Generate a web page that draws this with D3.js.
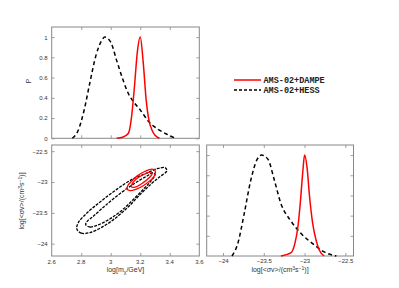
<!DOCTYPE html>
<html>
<head>
<meta charset="utf-8">
<script src="https://cdn.jsdelivr.net/npm/d3@7"></script>
<style>
  body { margin: 0; background: #fff; }
  text { font-family: "Liberation Sans", Arial, sans-serif; fill: #333; }
  text.mono { font-family: "Liberation Mono", "Courier New", monospace; fill: #222; }
</style>
</head>
<body>
<svg id="chart" width="399" height="288"></svg>
<script>
// Triangle plot: 1D posteriors + 2D contours
/////////////////////////////////

// series names
var seriesNames = ['AMS-02+DAMPE', 'AMS-02+HESS'];

// 1D posterior of log(m) - DAMPE (red)
var massRedX = [3.04, 3.08, 3.12, 3.14, 3.16, 3.18, 3.20, 3.22, 3.24, 3.26, 3.28, 3.30, 3.33];
var massRedP = [0, 0.01, 0.05, 0.2, 0.5, 0.85, 1.0, 0.75, 0.38, 0.17, 0.08, 0.03, 0];

// 1D posterior of log(m) - HESS (black dashed)
var massBlackX = [2.74, 2.78, 2.82, 2.86, 2.90, 2.94, 2.96, 3.00, 3.04, 3.08, 3.12, 3.16, 3.20, 3.26, 3.32, 3.38, 3.44];
var massBlackP = [0, 0.08, 0.28, 0.56, 0.82, 0.97, 1.0, 0.95, 0.77, 0.59, 0.44, 0.35, 0.28, 0.16, 0.09, 0.04, 0];

// 1D posterior of log(sv) - DAMPE
var svRedX = [-23.29, -23.17, -23.12, -23.08, -23.05, -23.02, -23.0, -22.97, -22.94, -22.90, -22.86, -22.82, -22.76];
var svRedP = [0, 0.03, 0.12, 0.3, 0.55, 0.85, 1.0, 0.88, 0.6, 0.32, 0.16, 0.06, 0];

// 1D posterior of log(sv) - HESS
var svBlackX = [-23.89, -23.82, -23.74, -23.66, -23.58, -23.53, -23.45, -23.37, -23.29, -23.17, -23.04, -22.88, -22.76, -22.61];
var svBlackP = [0, 0.12, 0.42, 0.75, 0.96, 1.0, 0.96, 0.75, 0.52, 0.35, 0.22, 0.11, 0.04, 0];

// 2D contours [log m, log sv]
var contBlackOuter = [[2.77, -23.76], [2.80, -23.83], [2.86, -23.82], [2.95, -23.72], [3.04, -23.57], [3.12, -23.40],
    [3.20, -23.20], [3.27, -23.04], [3.33, -22.92], [3.38, -22.82], [3.37, -22.77], [3.32, -22.78], [3.24, -22.86],
    [3.15, -22.95], [3.04, -23.12], [2.93, -23.32], [2.84, -23.50], [2.78, -23.66]];
var contBlackInner = [[2.83, -23.69], [2.86, -23.73], [2.92, -23.69], [3.00, -23.59], [3.08, -23.45], [3.15, -23.29],
    [3.22, -23.12], [3.27, -22.99], [3.30, -22.88], [3.29, -22.85], [3.24, -22.91], [3.15, -23.04], [3.04, -23.23],
    [2.95, -23.41], [2.88, -23.56], [2.84, -23.64]];
var contRedOuter = [[3.11, -23.11], [3.13, -23.14], [3.17, -23.12], [3.22, -23.06], [3.27, -22.97], [3.30, -22.88],
    [3.30, -22.81], [3.28, -22.79], [3.23, -22.83], [3.18, -22.90], [3.14, -22.99], [3.115, -23.06]];
var contRedInner = [[3.14, -23.08], [3.17, -23.08], [3.22, -23.01], [3.26, -22.93], [3.28, -22.87], [3.27, -22.84],
    [3.23, -22.87], [3.18, -22.94], [3.15, -23.01]];

// ticks
var massTicks = [2.6, 2.8, 3.0, 3.2, 3.4, 3.6];
var svTicks = [-24, -23.5, -23, -22.5];
var pTicks = [0, 0.2, 0.4, 0.6, 0.8, 1];

var svg = d3.select('#chart');
var red = '#ff0000', black = '#000';

// scales
var xM = d3.scaleLinear().domain([2.6, 3.6]).range([51.7, 199.3]);
var yTop = d3.scaleLinear().domain([0, 1.1]).range([138.3, 27]);
var ySv = d3.scaleLinear().domain([-24.2, -22.4]).range([256, 145]);
var xSv = d3.scaleLinear().domain([-24.2, -22.4]).range([206.7, 353.5]);
var yBR = d3.scaleLinear().domain([0, 1.1]).range([256, 145]);

var fmt = function (d) { return String(d).replace('-', '\u2212'); };

function frame(x, y, xt, yt, xLab, yLab) {
    var g = svg.append('g');
    var x0 = x.range()[0], x1 = x.range()[1], y0 = y.range()[0], y1 = y.range()[1];
    // inward ticks on all sides
    g.append('g').attr('transform', 'translate(0,' + y0 + ')')
        .call(d3.axisBottom(x).tickValues(xt).tickSize(-3).tickPadding(3).tickFormat(xLab ? fmt : ''));
    g.append('g').attr('transform', 'translate(0,' + y1 + ')')
        .call(d3.axisTop(x).tickValues(xt).tickSize(-3).tickFormat(''));
    g.append('g').attr('transform', 'translate(' + x0 + ',0)')
        .call(d3.axisLeft(y).tickValues(yt).tickSize(-3).tickPadding(4).tickFormat(yLab ? fmt : ''));
    g.append('g').attr('transform', 'translate(' + x1 + ',0)')
        .call(d3.axisRight(y).tickValues(yt).tickSize(-3).tickFormat(''));
    g.selectAll('.domain').remove();
    g.selectAll('.tick line').attr('stroke', '#888').attr('stroke-width', 0.8);
    g.selectAll('.tick text').attr('font-size', '6px');
    g.append('rect').attr('x', x0).attr('y', y1).attr('width', x1 - x0).attr('height', y0 - y1)
        .attr('fill', 'none').attr('stroke', '#888').attr('stroke-width', 1);
}

frame(xM, yTop, [2.8, 3.0, 3.2, 3.4], pTicks, false, true);
frame(xM, ySv, [2.8, 3.0, 3.2, 3.4], svTicks, false, true);
frame(xSv, yBR, svTicks, [0.2, 0.4, 0.6, 0.8, 1], true, false);

// tick labels on the bottom-left x axis (end ticks included)
svg.append('g').selectAll('text').data(massTicks).enter().append('text')
    .attr('x', function (d) { return xM(d); }).attr('y', 264)
    .attr('text-anchor', 'middle').attr('font-size', '6px')
    .text(function (d) { return d === 3 ? '3' : d3.format('.1f')(d); });

function curve(xs, ps, x, y, color, dash) {
    var pts = d3.zip(xs, ps);
    svg.append('path').datum(pts)
        .attr('d', d3.line().x(function (d) { return x(d[0]); }).y(function (d) { return y(d[1]); })
            .curve(d3.curveMonotoneX))
        .attr('fill', 'none').attr('stroke', color).attr('stroke-width', 1.5)
        .attr('stroke-dasharray', dash || null);
}

curve(massBlackX, massBlackP, xM, yTop, black, '4,3');
curve(massRedX, massRedP, xM, yTop, red);
curve(svBlackX, svBlackP, xSv, yBR, black, '4,3');
curve(svRedX, svRedP, xSv, yBR, red);

function contour(pts, color, dash) {
    svg.append('path').datum(pts)
        .attr('d', d3.line().x(function (d) { return xM(d[0]); }).y(function (d) { return ySv(d[1]); })
            .curve(d3.curveCatmullRomClosed))
        .attr('fill', 'none').attr('stroke', color).attr('stroke-width', 1.3)
        .attr('stroke-dasharray', dash || null);
}

contour(contBlackOuter, black, '3,1.2');
contour(contBlackInner, black, '3,1.2');
contour(contRedOuter, red);
contour(contRedInner, red);

// axis titles
svg.append('text').attr('transform', 'translate(31,81) rotate(-90)')
    .attr('text-anchor', 'middle').attr('font-size', '7px').text('P');

var svLabel = function (t) {
    t.append('tspan').text('log[<\u03c3v>/(cm');
    t.append('tspan').attr('dy', -2.5).attr('font-size', '5px').text('3');
    t.append('tspan').attr('dy', 2.5).text('s');
    t.append('tspan').attr('dy', -2.5).attr('font-size', '5px').text('\u22121');
    t.append('tspan').attr('dy', 2.5).text(')]');
};

svg.append('text').attr('transform', 'translate(24,201) rotate(-90)')
    .attr('text-anchor', 'middle').attr('font-size', '7px').call(svLabel);
svg.append('text').attr('x', 280).attr('y', 272)
    .attr('text-anchor', 'middle').attr('font-size', '7px').call(svLabel);

var mLabel = svg.append('text').attr('x', 125.5).attr('y', 271.5)
    .attr('text-anchor', 'middle').attr('font-size', '7px');
mLabel.append('tspan').text('log[m');
mLabel.append('tspan').attr('dy', 2.5).attr('font-size', '5px').text('\u03c7');
mLabel.append('tspan').attr('dy', -2.5).text('/GeV]');

// legend
var legend = svg.append('g');
[red, black].forEach(function (c, i) {
    legend.append('line').attr('x1', 234).attr('x2', 261)
        .attr('y1', 80 + i * 10).attr('y2', 80 + i * 10)
        .attr('stroke', c).attr('stroke-width', i ? 1.3 : 1.5)
        .attr('stroke-dasharray', i ? '3,2' : null);
    legend.append('text').attr('class', 'mono').attr('x', 263.5).attr('y', 82.5 + i * 10)
        .attr('font-size', '8.5px').attr('font-weight', 'bold')
        .text(seriesNames[i]);
});
</script>
</body>
</html>
